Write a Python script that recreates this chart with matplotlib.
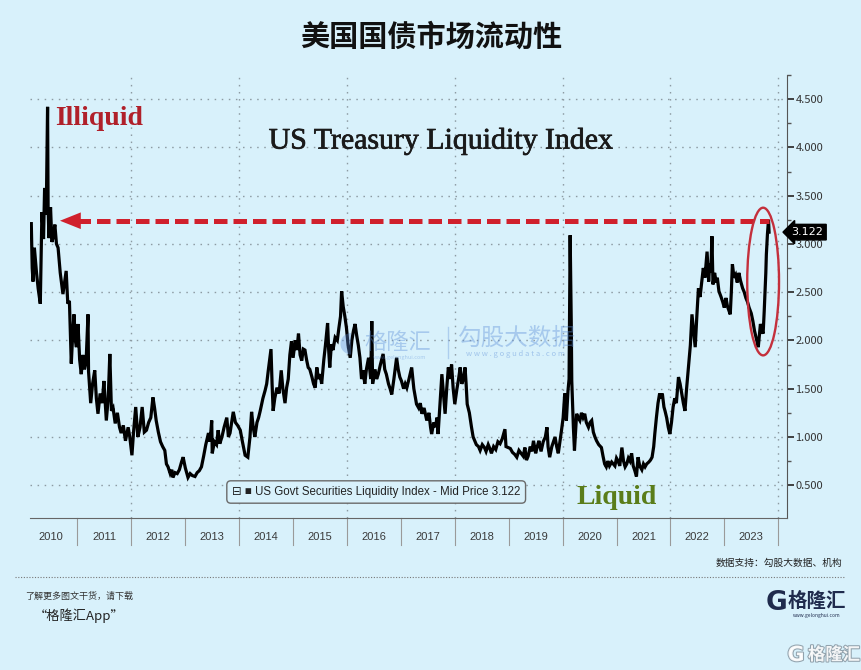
import matplotlib
matplotlib.use("Agg")
import matplotlib.pyplot as plt
import matplotlib.patheffects as pe
from matplotlib.patches import Ellipse
from matplotlib.transforms import blended_transform_factory

plt.rcParams['font.family'] = ['Noto Sans CJK SC', 'DejaVu Sans']

BG = '#d8f1fb'
W, H = 862, 670

# decimal years and index values
years = [
    2010.143, 2010.16, 2010.175, 2010.20, 2010.24, 2010.27, 2010.31, 2010.34, 2010.37, 2010.39,
    2010.42, 2010.445, 2010.455, 2010.47, 2010.50, 2010.525, 2010.545, 2010.58, 2010.61, 2010.64,
    2010.68, 2010.70, 2010.73, 2010.76, 2010.79, 2010.82, 2010.85, 2010.885, 2010.91, 2010.935,
    2010.96, 2010.98, 2011.01, 2011.04, 2011.07, 2011.10, 2011.13, 2011.16, 2011.195, 2011.205,
    2011.245, 2011.28, 2011.32, 2011.35, 2011.38, 2011.42, 2011.46, 2011.49, 2011.535, 2011.57,
    2011.60, 2011.63, 2011.66, 2011.70, 2011.74, 2011.78, 2011.81, 2011.85, 2011.89, 2011.94,
    2011.97, 2012.01, 2012.04, 2012.08, 2012.12, 2012.16, 2012.20, 2012.24, 2012.28, 2012.32,
    2012.36, 2012.40, 2012.43, 2012.46, 2012.50, 2012.54, 2012.58, 2012.62, 2012.65, 2012.68,
    2012.72, 2012.75, 2012.77, 2012.81, 2012.85, 2012.89, 2012.93, 2012.96, 2013.00, 2013.05,
    2013.09, 2013.13, 2013.18, 2013.22, 2013.26, 2013.30, 2013.34, 2013.38, 2013.43, 2013.46,
    2013.49, 2013.50, 2013.54, 2013.58, 2013.61, 2013.64, 2013.68, 2013.72, 2013.77, 2013.80,
    2013.83, 2013.89, 2013.93, 2013.97, 2014.02, 2014.06, 2014.11, 2014.16, 2014.20, 2014.23,
    2014.26, 2014.29, 2014.33, 2014.36, 2014.39, 2014.44, 2014.48, 2014.51, 2014.54, 2014.59,
    2014.61, 2014.63, 2014.66, 2014.70, 2014.74, 2014.78, 2014.81, 2014.85, 2014.88, 2014.91,
    2014.94, 2014.97, 2015.00, 2015.04, 2015.07, 2015.10, 2015.13, 2015.16, 2015.19, 2015.22,
    2015.25, 2015.28, 2015.31, 2015.35, 2015.38, 2015.41, 2015.44, 2015.47, 2015.50, 2015.53,
    2015.57, 2015.60, 2015.64, 2015.66, 2015.68, 2015.71, 2015.74, 2015.78, 2015.82, 2015.85,
    2015.88, 2015.90, 2015.93, 2015.96, 2015.99, 2016.02, 2016.06, 2016.09, 2016.12, 2016.15,
    2016.18, 2016.21, 2016.24, 2016.27, 2016.30, 2016.33, 2016.36, 2016.40, 2016.44, 2016.46,
    2016.475, 2016.52, 2016.55, 2016.58, 2016.62, 2016.67, 2016.70, 2016.73, 2016.77, 2016.80,
    2016.83, 2016.87, 2016.92, 2016.95, 2016.98, 2017.01, 2017.05, 2017.08, 2017.11, 2017.15,
    2017.20, 2017.24, 2017.29, 2017.33, 2017.36, 2017.39, 2017.43, 2017.48, 2017.52, 2017.55,
    2017.57, 2017.61, 2017.64, 2017.67, 2017.69, 2017.72, 2017.76, 2017.79, 2017.82, 2017.85,
    2017.88, 2017.91, 2017.94, 2017.97, 2018.00, 2018.04, 2018.07, 2018.10, 2018.13, 2018.16,
    2018.19, 2018.21, 2018.23, 2018.27, 2018.31, 2018.34, 2018.37, 2018.40, 2018.44, 2018.47,
    2018.51, 2018.55, 2018.58, 2018.62, 2018.65, 2018.68, 2018.72, 2018.76, 2018.80, 2018.84,
    2018.88, 2018.93, 2018.95, 2018.99, 2019.03, 2019.07, 2019.11, 2019.15, 2019.19, 2019.23,
    2019.27, 2019.30, 2019.33, 2019.36, 2019.40, 2019.43, 2019.46, 2019.50, 2019.53, 2019.56,
    2019.60, 2019.64, 2019.68, 2019.71, 2019.73, 2019.76, 2019.80, 2019.83, 2019.86, 2019.89,
    2019.92, 2019.95, 2019.98, 2020.01, 2020.04, 2020.07, 2020.10, 2020.12, 2020.14, 2020.16,
    2020.17, 2020.20, 2020.22, 2020.24, 2020.26, 2020.29, 2020.32, 2020.35, 2020.38, 2020.41,
    2020.44, 2020.48, 2020.51, 2020.54, 2020.57, 2020.60, 2020.63, 2020.67, 2020.72, 2020.75,
    2020.78, 2020.81, 2020.84, 2020.87, 2020.91, 2020.94, 2020.97, 2021.00, 2021.03, 2021.06,
    2021.08, 2021.10, 2021.13, 2021.16, 2021.19, 2021.22, 2021.25, 2021.28, 2021.31, 2021.34,
    2021.37, 2021.40, 2021.43, 2021.47, 2021.50, 2021.53, 2021.56, 2021.60, 2021.63, 2021.66,
    2021.69, 2021.71, 2021.74, 2021.77, 2021.80, 2021.82, 2021.85, 2021.88, 2021.90, 2021.93,
    2021.96, 2021.99, 2022.02, 2022.05, 2022.08, 2022.11, 2022.15, 2022.18, 2022.21, 2022.24,
    2022.27, 2022.30, 2022.33, 2022.37, 2022.40, 2022.43, 2022.46, 2022.49, 2022.52, 2022.55,
    2022.58, 2022.61, 2022.64, 2022.68, 2022.71, 2022.73, 2022.75, 2022.77, 2022.79, 2022.82,
    2022.85, 2022.87, 2022.90, 2022.94, 2022.97, 2023.00, 2023.03, 2023.06, 2023.09, 2023.11,
    2023.13, 2023.15, 2023.18, 2023.21, 2023.24, 2023.27, 2023.30, 2023.34, 2023.37, 2023.40,
    2023.43, 2023.46, 2023.50, 2023.53, 2023.56, 2023.59, 2023.61, 2023.63, 2023.65, 2023.67,
    2023.70, 2023.72, 2023.74, 2023.75, 2023.77, 2023.78, 2023.80, 2023.82, 2023.83,
]
index_values = [
    3.21, 2.75, 2.61, 2.96, 2.70, 2.54, 2.38, 3.33, 3.05, 3.58,
    3.30, 4.42, 3.38, 3.06, 3.38, 3.02, 3.06, 3.20, 3.00, 2.96,
    2.70, 2.61, 2.48, 2.60, 2.72, 2.38, 2.41, 1.76, 2.05, 2.27,
    2.00, 1.93, 2.17, 1.80, 1.65, 1.85, 1.70, 1.78, 2.27, 1.68,
    1.35, 1.55, 1.69, 1.40, 1.24, 1.45, 1.35, 1.58, 1.17, 1.40,
    1.86, 1.27, 1.30, 1.14, 1.25, 1.10, 1.04, 1.12, 0.96, 1.10,
    1.00, 0.81, 1.05, 1.31, 1.00, 1.10, 1.31, 1.05, 1.07, 1.15,
    1.20, 1.41, 1.30, 1.17, 1.05, 0.95, 0.90, 0.86, 0.72, 0.69,
    0.62, 0.66, 0.58, 0.63, 0.62, 0.66, 0.74, 0.79, 0.68, 0.58,
    0.62, 0.60, 0.59, 0.63, 0.65, 0.69, 0.80, 0.92, 1.04, 0.95,
    1.17, 0.83, 0.95, 0.92, 1.07, 0.93, 1.00, 1.10, 1.20, 1.00,
    1.04, 1.26, 1.15, 1.12, 1.07, 0.95, 0.81, 0.79, 1.00, 1.26,
    1.10, 1.00, 1.15, 1.20, 1.27, 1.40, 1.48, 1.55, 1.69, 1.91,
    1.55, 1.27, 1.40, 1.51, 1.45, 1.69, 1.50, 1.35, 1.51, 1.60,
    1.85, 1.99, 1.82, 2.00, 1.90, 2.07, 1.85, 1.79, 1.91, 1.90,
    1.80, 1.72, 1.70, 1.62, 1.55, 1.51, 1.72, 1.60, 1.65, 1.55,
    1.80, 1.95, 2.18, 1.90, 1.72, 1.96, 1.90, 2.03, 2.00, 2.13,
    2.25, 2.51, 2.35, 2.25, 2.13, 1.95, 1.82, 2.00, 2.10, 2.17,
    2.05, 1.95, 1.82, 1.60, 1.69, 1.55, 1.70, 1.82, 1.60, 2.20,
    1.55, 1.70, 1.60, 1.65, 1.75, 1.86, 1.70, 1.65, 1.55, 1.50,
    1.44, 1.60, 1.82, 1.70, 1.62, 1.58, 1.50, 1.55, 1.51, 1.60,
    1.72, 1.50, 1.34, 1.30, 1.35, 1.24, 1.30, 1.17, 1.25, 1.10,
    1.03, 1.15, 1.10, 1.20, 1.03, 1.30, 1.65, 1.45, 1.24, 1.50,
    1.72, 1.60, 1.75, 1.50, 1.34, 1.50, 1.60, 1.72, 1.55, 1.60,
    1.72, 1.55, 1.34, 1.25, 1.10, 1.00, 0.96, 0.92, 0.90, 0.86,
    0.92, 0.89, 0.85, 0.92, 0.88, 0.83, 0.90, 0.87, 0.95, 0.93,
    0.98, 1.08, 0.90, 0.89, 0.88, 0.84, 0.82, 0.79, 0.86, 0.83,
    0.80, 0.89, 0.76, 0.80, 0.90, 0.85, 0.96, 0.83, 0.90, 0.96,
    0.85, 0.95, 1.00, 1.10, 0.90, 0.79, 0.90, 0.95, 1.00, 0.90,
    0.83, 0.95, 1.07, 1.20, 1.45, 1.17, 1.48, 1.60, 3.09, 2.20,
    1.58, 1.10, 0.86, 1.05, 1.24, 1.20, 1.17, 1.25, 1.20, 1.24,
    1.15, 1.10, 1.15, 1.17, 1.05, 1.00, 0.96, 0.92, 0.89, 0.80,
    0.72, 0.69, 0.75, 0.70, 0.74, 0.72, 0.70, 0.78, 0.75, 0.70,
    0.80, 0.89, 0.75, 0.69, 0.72, 0.78, 0.75, 0.83, 0.70, 0.65,
    0.59, 0.79, 0.70, 0.66, 0.72, 0.69, 0.72, 0.74, 0.76, 0.79,
    0.90, 1.03, 1.20, 1.35, 1.45, 1.40, 1.45, 1.31, 1.27, 1.20,
    1.10, 1.03, 1.15, 1.31, 1.40, 1.35, 1.62, 1.55, 1.45, 1.35,
    1.27, 1.50, 1.69, 1.95, 2.27, 2.10, 1.93, 2.25, 2.54, 2.45,
    2.60, 2.75, 2.65, 2.92, 2.61, 2.80, 2.70, 3.08, 2.58, 2.70,
    2.60, 2.65, 2.51, 2.45, 2.40, 2.34, 2.44, 2.35, 2.30, 2.27,
    2.50, 2.79, 2.65, 2.68, 2.60, 2.70, 2.62, 2.54, 2.50, 2.44,
    2.40, 2.34, 2.28, 2.20, 2.10, 2.03, 1.98, 1.93, 2.05, 2.17,
    2.10, 2.07, 2.30, 2.44, 2.70, 2.89, 3.10, 3.25, 3.122,
]

year_labels = [str(y) for y in range(2010, 2024)]
y_ticks = [0.5, 1.0, 1.5, 2.0, 2.5, 3.0, 3.5, 4.0, 4.5]
last_value = 3.122
arrow_level = 3.24

fig = plt.figure(figsize=(W / 100, H / 100), dpi=100, facecolor=BG)
ax = fig.add_axes([30 / W, 1 - 518 / H, 757 / W, 443 / H])
ax.set_facecolor(BG)

ax.plot(years, index_values, color='black', lw=2.3, solid_joinstyle='miter', zorder=3)

ax.set_xlim(2010.119, 2024.163)
ax.set_ylim(0.16, 4.727)

# grid
for yv in y_ticks:
    ax.axhline(yv, color='#8d9ba3', lw=1, ls=(0, (1.1, 4)), zorder=1)
for xv in range(2012, 2025, 2):
    ax.axvline(xv, color='#8d9ba3', lw=1, ls=(0, (1.1, 4)), zorder=1)

# right axis
ax.yaxis.tick_right()
ax.set_yticks(y_ticks)
ax.set_yticklabels(['%.3f' % v for v in y_ticks])
ax.set_yticks([v + 0.25 for v in y_ticks], minor=True)
ax.tick_params(axis='y', which='major', direction='out', length=5, width=1.3,
               colors='#333333', labelsize=8, pad=1)
ax.tick_params(axis='y', which='minor', direction='out', length=3, width=1,
               color='#555555')
ax.set_xticks([])
for side in ['top', 'left']:
    ax.spines[side].set_visible(False)
ax.spines['right'].set_color('#555555')
ax.spines['bottom'].set_color('#666666')

# year strip under the axis
tr = blended_transform_factory(ax.transData, ax.transAxes)
for yr in range(2011, 2025):
    ax.plot([yr, yr], [0, -27 / 443], color='#9a9a9a', lw=0.8, transform=tr, clip_on=False)
for i, lab in enumerate(year_labels):
    ax.text(2010 + i + 0.5, -19 / 443, lab, transform=tr, ha='center', va='center',
            fontsize=8, color='#3a3a3a', family='Liberation Sans')

# value tag
ax.text(1.006, last_value, '%.3f' % last_value,
        transform=blended_transform_factory(ax.transAxes, ax.transData),
        ha='left', va='center', fontsize=8, color='white', family='DejaVu Sans',
        bbox=dict(boxstyle='larrow,pad=0.25', fc='black', ec='black'), zorder=5, clip_on=False)

# red dashed arrow
red = '#d0202c'
ax.plot([2011.0, years[-2]], [arrow_level, arrow_level], color=red, lw=3.6,
        ls=(0, (2.7, 1.2)), solid_capstyle='butt', zorder=4)
ax.plot([2010.85, 2011.0], [arrow_level, arrow_level], color=red, lw=3.6,
        solid_capstyle='butt', zorder=4)
ax.annotate('', xy=(2010.675, arrow_level), xytext=(2011.0, arrow_level),
            arrowprops=dict(arrowstyle='-|>,head_length=0.75,head_width=0.3', color=red,
                            lw=0, mutation_scale=20, shrinkA=0, shrinkB=0), zorder=4)

# ellipse around recent move
ax.add_patch(Ellipse((2023.72, 2.61), 0.59, 1.53, fill=False, ec='#c4303c', lw=1.7, zorder=4))

# annotations
ax.text(2010.58, 4.30, 'Illiquid', family='Liberation Serif', weight='bold', fontsize=20,
        color='#b0202a', ha='left', va='center', zorder=5)
ax.text(2017.74, 4.06, 'US Treasury Liquidity Index', family='Liberation Serif', fontsize=21.5,
        color='#1a1a1a', ha='center', va='center', zorder=5,
        path_effects=[pe.withStroke(linewidth=0.5, foreground='#1a1a1a')])
ax.text(2021.0, 0.37, 'Liquid', family='Liberation Serif', weight='bold', fontsize=20,
        color='#5a7d1a', ha='center', va='center', zorder=5)

ax.text((232 - 30) / 757, (518 - 492) / 443,
        '\u229f \u25a0 US Govt Securities Liquidity Index - Mid Price %.3f' % last_value,
        transform=ax.transAxes, ha='left', va='center', fontsize=8.3, color='#222222',
        family=['Liberation Sans', 'DejaVu Sans'],
        bbox=dict(boxstyle='round,pad=0.45,rounding_size=0.35', fc=BG, ec='#6a6a6a', lw=1),
        zorder=6)

# watermark
wm = '#5d8fd8'
fig.text(346 / W, 1 - 342 / H, '\u25d6', fontsize=20, color=wm, alpha=0.35, ha='center', va='center')
fig.text(398 / W, 1 - 342 / H, '格隆汇', fontsize=16, color=wm, alpha=0.4, ha='center', va='center')
fig.text(400 / W, 1 - 357 / H, 'www.gelonghui.com', fontsize=4, color=wm, alpha=0.4, ha='center', va='center')
fig.add_artist(plt.Line2D([448 / W, 448 / W], [1 - 327 / H, 1 - 358 / H], color=wm, alpha=0.35, lw=1))
fig.text(516 / W, 1 - 338 / H, '勾股大数据', fontsize=17, color=wm, alpha=0.4, ha='center', va='center')
fig.text(516 / W, 1 - 354 / H, 'w w w . g o g u d a t a . c o m', fontsize=5.5, color=wm, alpha=0.45,
         ha='center', va='center')

# title and footer
fig.text(0.5, 1 - 37 / H, '美国国债市场流动性', fontsize=21, weight='bold', color='#111111',
         ha='center', va='center')
fig.text(842 / W, 1 - 563 / H, '数据支持：勾股大数据、机构', fontsize=7, color='#222222',
         ha='right', va='center')
fig.add_artist(plt.Line2D([15 / W, 845 / W], [1 - 577 / H, 1 - 577 / H], color='#777777',
                          lw=0.8, ls=(0, (1, 1.5))))
fig.text(25 / W, 1 - 596 / H, '了解更多图文干货，请下载', fontsize=6.5, color='#333333',
         ha='left', va='center', style='italic')
fig.text(34 / W, 1 - 616 / H, '“格隆汇App”', fontsize=9.5, color='#222222',
         ha='left', va='center', style='italic')

navy = '#1f2b4d'
fig.text(777 / W, 1 - 603 / H, 'G', fontsize=19, weight='bold', color=navy, ha='center',
         va='center', family='DejaVu Sans')
fig.text(817 / W, 1 - 601 / H, '格隆汇', fontsize=14, weight='bold', color=navy, ha='center', va='center')
fig.text(817 / W, 1 - 616 / H, 'www.gelonghui.com', fontsize=3.5, color=navy, ha='center', va='center')

wmk = [pe.withStroke(linewidth=1.5, foreground='#8a9aa5')]
fig.text(796 / W, 1 - 655 / H, 'G', fontsize=15, weight='bold', color='white', ha='center',
         va='center', family='DejaVu Sans', path_effects=wmk, alpha=0.9)
fig.text(834 / W, 1 - 655 / H, '格隆汇', fontsize=12.5, weight='bold', color='white', ha='center',
         va='center', path_effects=wmk, alpha=0.9)

fig.savefig('out.png', dpi=100, facecolor=BG)
